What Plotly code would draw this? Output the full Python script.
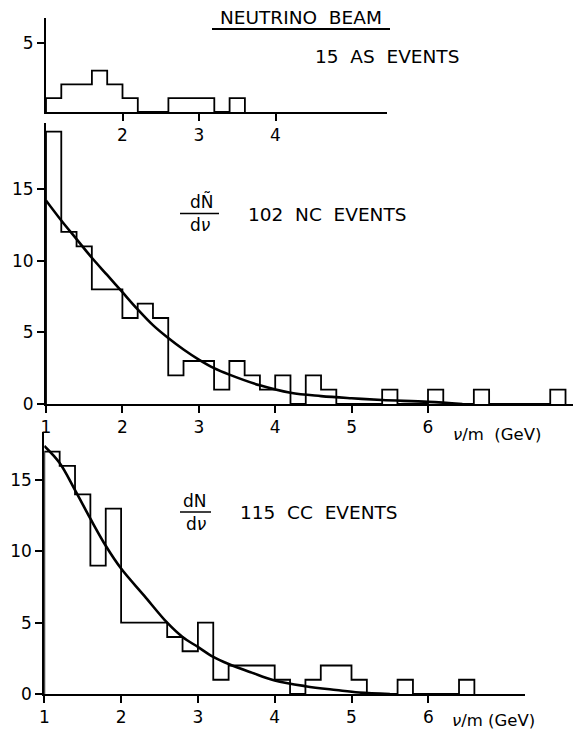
import plotly.graph_objects as go

W, H = 581, 731
OX, OY = 8, 8          # page body margin offset
FW, FH = W - OX, H - OY

# ---------------- data ----------------
# Top panel: 15 AS events (bin lower edges, bin width 0.2)
as_lo = [1.0, 1.2, 1.4, 1.6, 1.8, 2.0, 2.2, 2.4, 2.6, 2.8, 3.0, 3.2, 3.4]
as_counts = [1, 2, 2, 3, 2, 1, 0, 0, 1, 1, 1, 0, 1]

# Middle panel: 102 NC events
nc_lo = [1.0, 1.2, 1.4, 1.6, 1.8, 2.0, 2.2, 2.4, 2.6, 2.8, 3.0, 3.2, 3.4, 3.6,
         3.8, 4.0, 4.2, 4.4, 4.6, 4.8, 5.0, 5.2, 5.4, 5.6, 5.8, 6.0, 6.2, 6.4,
         6.6, 6.8, 7.0, 7.2, 7.4, 7.6]
nc_counts = [19, 12, 11, 8, 8, 6, 7, 6, 2, 3, 3, 1, 3, 2,
             1, 2, 0, 2, 1, 0, 0, 0, 1, 0, 0, 1, 0, 0,
             1, 0, 0, 0, 0, 1]
nc_fit_x = [1.0, 1.2, 1.4, 1.6, 1.8, 2.0, 2.2, 2.4, 2.6, 2.8, 3.0, 3.2, 3.4,
            3.8, 4.2, 4.6, 5.0, 5.4, 6.0, 6.45]
nc_fit_y = [14.2, 12.8, 11.5, 10.2, 9.0, 7.8, 6.6, 5.5, 4.6, 3.8, 3.1, 2.5, 2.05,
            1.3, 0.78, 0.55, 0.4, 0.28, 0.15, 0.0]

# Bottom panel: 115 CC events
cc_lo = [1.0, 1.2, 1.4, 1.6, 1.8, 2.0, 2.2, 2.4, 2.6, 2.8, 3.0, 3.2, 3.4, 3.6,
         3.8, 4.0, 4.2, 4.4, 4.6, 4.8, 5.0, 5.2, 5.4, 5.6, 5.8, 6.0, 6.2, 6.4]
cc_counts = [17, 16, 14, 9, 13, 5, 5, 5, 4, 3, 5, 1, 2, 2,
             2, 1, 0, 1, 2, 2, 1, 0, 0, 1, 0, 0, 0, 1]
cc_fit_x = [1.0, 1.2, 1.4, 1.6, 1.8, 2.0, 2.3, 2.6, 2.8, 3.0, 3.2, 3.4, 3.7,
            4.0, 4.4, 4.8, 5.1, 5.5]
cc_fit_y = [17.4, 16.2, 14.3, 12.3, 10.4, 8.8, 6.9, 5.0, 4.0, 3.3, 2.6, 2.1, 1.5,
            0.95, 0.55, 0.28, 0.1, 0.0]

BIN_W = 0.2
x_ticks_top = [2, 3, 4]
x_ticks = [1, 2, 3, 4, 5, 6]
y_ticks_top = [5]
y_ticks = [0, 5, 10, 15]


def step_xy(lo, counts, w):
    xs = [lo[0]] + list(lo) + [lo[-1] + w]
    ys = [0] + list(counts) + [0]
    return xs, ys


def px(x):
    return (x - OX) / FW


def py(y):
    return 1 - (y - OY) / FH


fig = go.Figure()

for lo, cnt, xa, ya in [(as_lo, as_counts, "x", "y"),
                        (nc_lo, nc_counts, "x2", "y2"),
                        (cc_lo, cc_counts, "x3", "y3")]:
    sx, sy = step_xy(lo, cnt, BIN_W)
    fig.add_trace(go.Scatter(x=sx, y=sy, mode="lines", line_shape="hv",
                             line=dict(color="black", width=1.8),
                             xaxis=xa, yaxis=ya, showlegend=False,
                             hoverinfo="skip"))

for fx, fy, xa, ya in [(nc_fit_x, nc_fit_y, "x2", "y2"),
                       (cc_fit_x, cc_fit_y, "x3", "y3")]:
    fig.add_trace(go.Scatter(x=fx, y=fy, mode="lines", line_shape="spline",
                             line=dict(color="black", width=2.6),
                             xaxis=xa, yaxis=ya, showlegend=False,
                             hoverinfo="skip"))

FONT = "DejaVu Sans"
ax_common = dict(showgrid=False, zeroline=False, showline=True, linecolor="black",
                 linewidth=2, ticks="outside", ticklen=7, tickwidth=1.5,
                 tickcolor="black", tickfont=dict(family=FONT, size=17, color="black"),
                 fixedrange=True, automargin=False)

fig.update_layout(
    width=FW, height=FH, margin=dict(l=0, r=0, t=0, b=0, autoexpand=False),
    paper_bgcolor="white", plot_bgcolor="white",
    xaxis=dict(ax_common, domain=[px(46), px(387)], range=[1, 1 + (387 - 46) / 76.5],
               tickvals=x_ticks_top, anchor="y"),
    yaxis=dict(ax_common, domain=[py(112), py(18)], range=[0, 6.8],
               tickvals=y_ticks_top, anchor="x"),
    xaxis2=dict(ax_common, domain=[px(46), 1.0], range=[1, 1 + (581 - 46) / 76.4],
                tickvals=x_ticks, anchor="y2"),
    yaxis2=dict(ax_common, domain=[py(404), py(123)], range=[0, 19.6],
                tickvals=y_ticks, anchor="x2"),
    xaxis3=dict(ax_common, domain=[px(44.3), px(525)], range=[1, 1 + (525 - 44.3) / 76.8],
                tickvals=x_ticks, anchor="y3"),
    yaxis3=dict(ax_common, domain=[py(694), py(431.7)], range=[0, 18.4],
                tickvals=y_ticks, anchor="x3"),
)


def txt(x, y, s, size=17, xanchor="left"):
    fig.add_annotation(x=px(x), y=py(y), xref="paper", yref="paper", text=s,
                       showarrow=False, xanchor=xanchor, yanchor="middle",
                       font=dict(family=FONT, size=size, color="black"))


def hline(x0, x1, y, w=1.5):
    fig.add_shape(type="line", xref="paper", yref="paper", x0=px(x0), x1=px(x1),
                  y0=py(y), y1=py(y), line=dict(color="black", width=w))


# title
txt(301, 18, "NEUTRINO  BEAM", size=18.5, xanchor="center")
hline(212, 390, 29, w=2)
txt(313, 57, "15  AS  EVENTS", size=18.5)

# middle labels
txt(202, 202, "dÑ", size=17, xanchor="center")
hline(180, 219, 213.5)
txt(200, 225, "d<i>ν</i>", size=17, xanchor="center")
txt(246, 214, "102  NC  EVENTS", size=18.5)
txt(451, 434, "<i>ν</i>/m  (GeV)", size=16.5)

# bottom labels
txt(195, 501, "dN", size=17, xanchor="center")
hline(180, 211, 512)
txt(196, 524, "d<i>ν</i>", size=17, xanchor="center")
txt(238, 512, "115  CC  EVENTS", size=18.5)
txt(450, 720, "<i>ν</i>/m (GeV)", size=16.5)

fig.write_html("out.html")
